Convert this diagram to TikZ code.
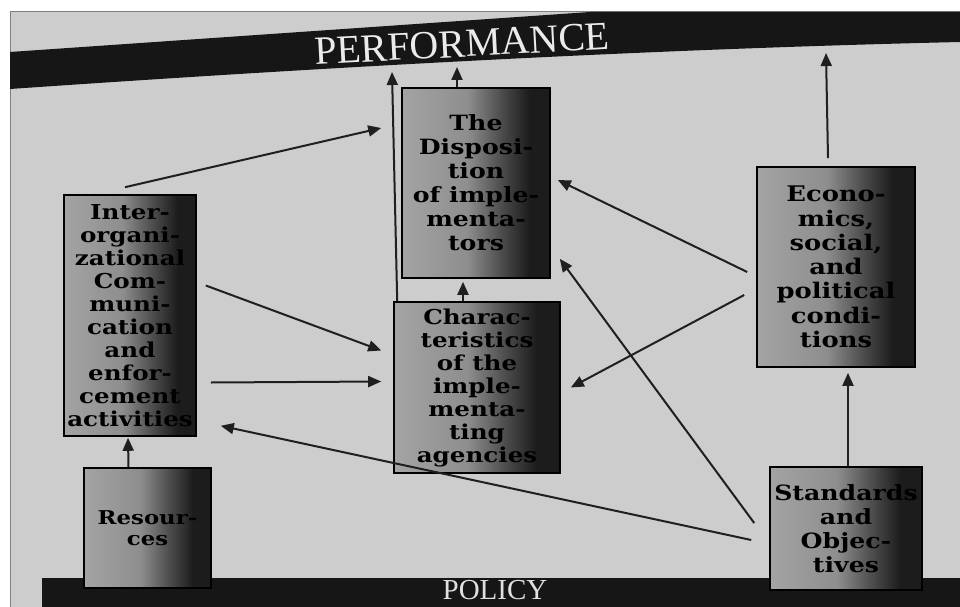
\documentclass[tikz,border=0pt]{standalone}
\usepackage{fontspec}
\newfontfamily\boxfont[FakeStretch=1.2]{DejaVu Serif}
\newfontfamily\bandfont{Liberation Serif}
\usetikzlibrary{arrows.meta,calc}
\definecolor{paper}{HTML}{CDCDCD}
\definecolor{bandc}{HTML}{161616}
\definecolor{boxA}{HTML}{A4A4A4}
\definecolor{boxB}{HTML}{8E8E8E}
\definecolor{boxC}{HTML}{4A4A4A}
\definecolor{boxD}{HTML}{1C1C1C}
\pgfdeclarehorizontalshading{boxshade}{100bp}{color(0bp)=(boxA); color(25bp)=(boxA); color(47bp)=(boxB); color(59bp)=(boxC); color(68bp)=(boxD); color(100bp)=(boxD)}
\begin{document}
\begin{tikzpicture}[x=1pt,y=-1pt,
  box/.style={draw=black,line width=1.6pt,shade,shading=boxshade,rectangle,inner sep=0pt,align=center,text=black},
  bf/.style 2 args={font=\boxfont\bfseries\fontsize{#1}{#2}\selectfont},
  arr/.style={-{Triangle[length=13pt,width=11pt]},line width=2pt,black!88}]
\useasboundingbox (0,0) rectangle (960,607);
% page and frame
\fill[white] (0,0) rectangle (960,607);
\fill[paper] (10,12) rectangle (960,607);
\draw[gray,line width=1pt] (10,607) -- (10,12) -- (960,12);
% PERFORMANCE band
\fill[bandc] (10,52) -- (300,32) -- (590,12) -- (960,12) -- (960,42)
  .. controls (700,48) and (400,62) .. (10,89) -- cycle;
\node[text=white!92!black,font=\bandfont\fontsize{40}{40}\selectfont,rotate=3] (perf) at (462,44) {PERFORMANCE};
% POLICY band
\fill[bandc] (42,578) rectangle (960,607);
\node[anchor=base,inner sep=0pt,text=white!88!black,font=\bandfont\fontsize{29}{29}\selectfont] (pol) at (495,599) {POLICY};
% boxes
\node[box,bf={20.5}{23},minimum width=132pt,minimum height=241pt] (inter) at (130,315.5)
  {Inter-\\organi-\\zational\\Com-\\muni-\\cation\\and\\enfor-\\cement\\activities};
\node[box,bf={21}{24},minimum width=148pt,minimum height=190pt] (disp) at (476,183)
  {The\\Disposi-\\tion\\of imple-\\menta-\\tors};
\node[box,bf={20.5}{23},minimum width=166pt,minimum height=171pt] (char) at (477,387.5)
  {Charac-\\teristics\\of the\\imple-\\menta-\\ting\\agencies};
\node[box,bf={21.5}{24.3},minimum width=158pt,minimum height=200pt] (econ) at (836,267)
  {Econo-\\mics,\\social,\\and\\political\\condi-\\tions};
\node[box,bf={19}{21},minimum width=127pt,minimum height=120pt] (res) at (147.5,528)
  {Resour-\\ces};
\node[box,bf={21}{24},minimum width=152pt,minimum height=123pt] (std) at (846,528.5)
  {Standards\\and\\Objec-\\tives};
% free ends at the PERFORMANCE band
\coordinate (perfA) at (392,72);
\coordinate (perfB) at (457,67);
\coordinate (perfC) at (826,53);
% connectors
\draw[arr] ($(res.north)+(-19,0)$) -- ($(inter.south)+(-2,1)$);
\draw[arr] ($(inter.north)+(-5,-7)$) -- ($(disp.west)+(-20,-55)$);
\draw[arr] ($(inter.east)+(9,-30)$) -- ($(char.west)+(-12,-37)$);
\draw[arr] ($(inter.east)+(14,67)$) -- ($(char.west)+(-12,-6)$);
\draw[arr] ($(std.west)+(-18,11.5)$) -- ($(inter.south east)+(24,-11)$);
\draw[arr] ($(std.west)+(-15,-5.5)$) -- ($(disp.south east)+(9,-20)$);
\draw[arr] ($(econ.west)+(-9,5)$) -- ($(disp.east)+(7,-3)$);
\draw[arr] ($(econ.west)+(-12,28)$) -- ($(char.east)+(10,0)$);
\draw[arr] ($(std.north)+(2,0)$) -- ($(econ.south)+(12,5)$);
\draw[arr] ($(econ.north)+(-8,-8)$) -- (perfC);
\draw[arr] ($(disp.north)+(-19,0)$) -- (perfB);
\draw[arr] ($(char.north)+(-14,0)$) -- ($(disp.south)+(-13,3)$);
\draw[arr] ($(char.north west)+(4,0)$) -- (perfA);
\end{tikzpicture}
\end{document}
